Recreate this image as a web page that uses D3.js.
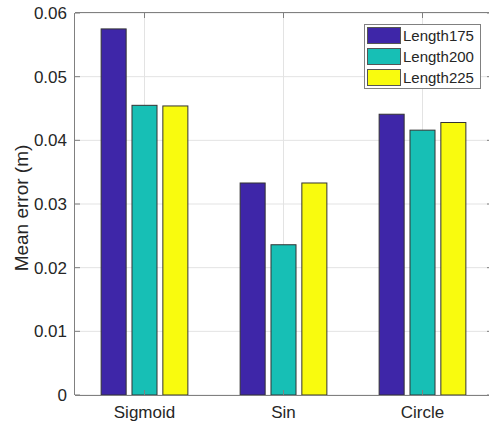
<!DOCTYPE html>
<html>
<head>
<meta charset="utf-8">
<script src="https://cdn.jsdelivr.net/npm/d3@7"></script>
<style>
body { margin: 0; background: #fff; }
text { font-family: "Liberation Sans", Arial, Helvetica, sans-serif; fill: #262626; }
</style>
</head>
<body>
<svg id="chart" width="489" height="424"></svg>
<script>
var categories = ['Sigmoid', 'Sin', 'Circle']
var seriesNames = ['Length175', 'Length200', 'Length225']
var seriesColors = ['#3e26a8', '#17bfb5', '#f9fb0e']
var length175 = [0.0575, 0.0333, 0.0441]
var length200 = [0.0455, 0.0236, 0.0416]
var length225 = [0.0454, 0.0333, 0.0428]
var yTicks = [0, 0.01, 0.02, 0.03, 0.04, 0.05, 0.06]

var series = [length175, length200, length225]

var svg = d3.select('#chart')
var pLeft = 75, pTop = 13, pBottom = 395, pRight = 492

var x = d3.scaleLinear().domain([0.5, 3.5]).range([pLeft, pRight])
var y = d3.scaleLinear().domain([0, 0.06]).range([pBottom, pTop])

// grid
svg.append('g').selectAll('line').data(yTicks).join('line')
	.attr('x1', pLeft).attr('x2', pRight)
	.attr('y1', function(d) { return y(d) }).attr('y2', function(d) { return y(d) })
	.attr('stroke', '#e3e3e3').attr('stroke-width', 1)
svg.append('g').selectAll('line').data(categories).join('line')
	.attr('x1', function(d, i) { return x(i + 1) }).attr('x2', function(d, i) { return x(i + 1) })
	.attr('y1', pTop).attr('y2', pBottom)
	.attr('stroke', '#e3e3e3').attr('stroke-width', 1)

// bars
var groupStep = 0.222
var barW = 0.18
for (var s = 0; s < series.length; s++) {
	var vals = series[s]
	svg.append('g').selectAll('rect').data(vals).join('rect')
		.attr('x', function(d, i) { return x(i + 1 + (s - 1) * groupStep - barW / 2) })
		.attr('width', x(barW) - x(0))
		.attr('y', function(d) { return y(d) })
		.attr('height', function(d) { return y(0) - y(d) })
		.attr('fill', seriesColors[s])
		.attr('stroke', '#333').attr('stroke-width', 1)
}

// axes box
var axisColor = '#808080'
svg.append('line').attr('x1', pLeft).attr('x2', pRight).attr('y1', pBottom + 0.5).attr('y2', pBottom + 0.5).attr('stroke', axisColor)
svg.append('line').attr('x1', pLeft).attr('x2', pRight).attr('y1', pTop - 0.5).attr('y2', pTop - 0.5).attr('stroke', axisColor)
svg.append('line').attr('x1', pLeft - 0.5).attr('x2', pLeft - 0.5).attr('y1', pTop).attr('y2', pBottom).attr('stroke', axisColor)

// y ticks
var ty = svg.append('g')
ty.selectAll('line.l').data(yTicks).join('line')
	.attr('x1', pLeft).attr('x2', pLeft + 5)
	.attr('y1', function(d) { return y(d) }).attr('y2', function(d) { return y(d) })
	.attr('stroke', axisColor)
ty.selectAll('line.r').data(yTicks).join('line')
	.attr('x1', pRight - 5).attr('x2', pRight)
	.attr('y1', function(d) { return y(d) }).attr('y2', function(d) { return y(d) })
	.attr('stroke', axisColor)
svg.append('g').selectAll('text').data(yTicks).join('text')
	.attr('x', pLeft - 8).attr('y', function(d) { return y(d) })
	.attr('dy', '0.35em').attr('text-anchor', 'end')
	.style('font-size', '17px')
	.text(function(d) { return d === 0 ? '0' : d3.format('.2f')(d) })

// x ticks
svg.append('g').selectAll('line').data(categories).join('line')
	.attr('x1', function(d, i) { return x(i + 1) }).attr('x2', function(d, i) { return x(i + 1) })
	.attr('y1', pBottom).attr('y2', pBottom - 5)
	.attr('stroke', axisColor)
svg.append('g').selectAll('line').data(categories).join('line')
	.attr('x1', function(d, i) { return x(i + 1) }).attr('x2', function(d, i) { return x(i + 1) })
	.attr('y1', pTop).attr('y2', pTop + 5)
	.attr('stroke', axisColor)
svg.append('g').selectAll('text').data(categories).join('text')
	.attr('x', function(d, i) { return x(i + 1) }).attr('y', 418)
	.attr('text-anchor', 'middle')
	.style('font-size', '17px')
	.text(function(d) { return d })

// y label
svg.append('text')
	.attr('transform', 'translate(28,' + ((pTop + pBottom) / 2 + 4) + ') rotate(-90)')
	.attr('text-anchor', 'middle')
	.style('font-size', '19px')
	.text('Mean error (m)')

// legend
var lg = svg.append('g')
lg.append('rect').attr('x', 364.5).attr('y', 24.5).attr('width', 116).attr('height', 64)
	.attr('fill', '#fff').attr('stroke', '#808080')
seriesNames.forEach(function(name, i) {
	var yy = 27.5 + i * 21
	lg.append('rect').attr('x', 367.5).attr('y', yy).attr('width', 33).attr('height', 16)
		.attr('fill', seriesColors[i]).attr('stroke', '#555')
	lg.append('text').attr('x', 403).attr('y', yy + 8).attr('dy', '0.35em')
		.style('font-size', '15px').text(name)
})
</script>
</body>
</html>
